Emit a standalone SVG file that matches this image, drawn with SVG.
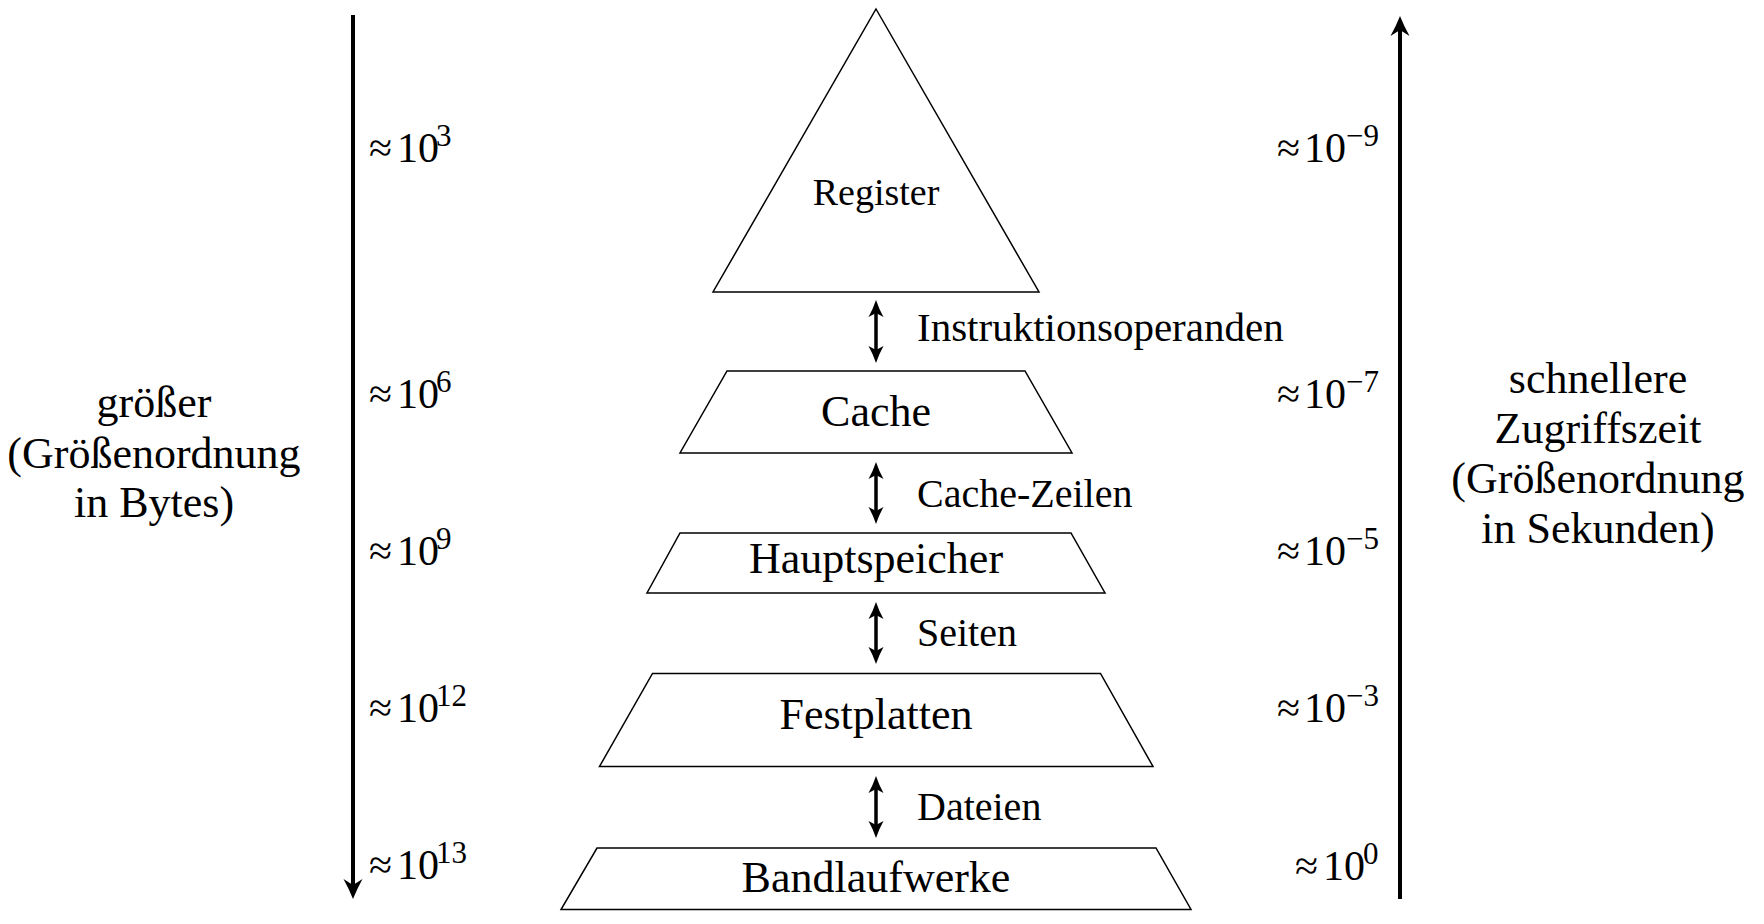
<svg xmlns="http://www.w3.org/2000/svg" width="1764" height="924" viewBox="0 0 1764 924">
<style>
  text { font-family: "Liberation Serif", "Times New Roman", serif; fill: #000; }
  .main { font-size: 44px; text-anchor: middle; }
  .reg { font-size: 38px; text-anchor: middle; }
  .conn { font-size: 40px; }
  .num { font-size: 42px; }
  .sup { font-size: 31px; }
  .axis { font-size: 44px; text-anchor: middle; }
  .shape { fill: #fff; stroke: #000; stroke-width: 1.5; stroke-linejoin: miter; }
  .axisline { stroke: #000; stroke-width: 4; fill: none; }
  .connline { stroke: #000; stroke-width: 3.5; fill: none; }
  .head { fill: #000; stroke: none; }
</style>
<rect width="1764" height="924" fill="#fff"/>

<g id="node-register">
  <polygon class="shape" points="876,9 1039,292 713,292"/>
  <text class="reg" x="876" y="205">Register</text>
</g>
<g id="node-cache">
  <polygon class="shape" points="727,371 1025,371 1072,453 680,453"/>
  <text class="main" x="876" y="426">Cache</text>
</g>
<g id="node-hauptspeicher">
  <polygon class="shape" points="680,533 1071,533 1105,593 647,593"/>
  <text class="main" x="876" y="573">Hauptspeicher</text>
</g>
<g id="node-festplatten">
  <polygon class="shape" points="652.5,673.5 1100.5,673.5 1153,766.5 599.5,766.5"/>
  <text class="main" x="876" y="729">Festplatten</text>
</g>
<g id="node-bandlaufwerke">
  <polygon class="shape" points="597,848 1156,848 1191,909.5 561,909.5"/>
  <text class="main" x="876" y="892">Bandlaufwerke</text>
</g>

<g id="connectors">
  <line class="connline" x1="876" y1="310" x2="876" y2="353"/>
  <path class="head" d="M876,300 Q873,309 868.5,317 L876,313 L883.5,317 Q879,309 876,300 Z"/>
  <path class="head" d="M876,363 Q873,354 868.5,346 L876,350 L883.5,346 Q879,354 876,363 Z"/>

  <line class="connline" x1="876" y1="472" x2="876" y2="514"/>
  <path class="head" d="M876,462 Q873,471 868.5,479 L876,475 L883.5,479 Q879,471 876,462 Z"/>
  <path class="head" d="M876,524 Q873,515 868.5,507 L876,511 L883.5,507 Q879,515 876,524 Z"/>

  <line class="connline" x1="876" y1="612" x2="876" y2="654"/>
  <path class="head" d="M876,602 Q873,611 868.5,619 L876,615 L883.5,619 Q879,611 876,602 Z"/>
  <path class="head" d="M876,664 Q873,655 868.5,647 L876,651 L883.5,647 Q879,655 876,664 Z"/>

  <line class="connline" x1="876" y1="786" x2="876" y2="828"/>
  <path class="head" d="M876,776 Q873,785 868.5,793 L876,789 L883.5,793 Q879,785 876,776 Z"/>
  <path class="head" d="M876,838 Q873,829 868.5,821 L876,825 L883.5,821 Q879,829 876,838 Z"/>
</g>

<g id="connector-labels">
  <text class="conn" x="917" y="341" style="font-size:41px">Instruktionsoperanden</text>
  <text class="conn" x="917" y="507">Cache-Zeilen</text>
  <text class="conn" x="917" y="646">Seiten</text>
  <text class="conn" x="917" y="820">Dateien</text>
</g>

<g id="axis-left">
  <line class="axisline" x1="353" y1="15" x2="353" y2="886"/>
  <path class="head" d="M353,899 Q349,889 343.5,879 L353,885 L362.5,879 Q357,889 353,899 Z"/>
  <text class="axis" x="154" y="417">größer</text>
  <text class="axis" x="154" y="468">(Größenordnung</text>
  <text class="axis" x="154" y="517">in Bytes)</text>
  <text class="num" y="162"><tspan x="369">≈</tspan><tspan x="397">10</tspan><tspan class="sup" x="436" dy="-16">3</tspan></text>
  <text class="num" y="408"><tspan x="369">≈</tspan><tspan x="397">10</tspan><tspan class="sup" x="436" dy="-16">6</tspan></text>
  <text class="num" y="565"><tspan x="369">≈</tspan><tspan x="397">10</tspan><tspan class="sup" x="436" dy="-16">9</tspan></text>
  <text class="num" y="722"><tspan x="369">≈</tspan><tspan x="397">10</tspan><tspan class="sup" x="436" dy="-16">12</tspan></text>
  <text class="num" y="879"><tspan x="369">≈</tspan><tspan x="397">10</tspan><tspan class="sup" x="436" dy="-16">13</tspan></text>
</g>

<g id="axis-right">
  <line class="axisline" x1="1400" y1="29" x2="1400" y2="899"/>
  <path class="head" d="M1400,16 Q1396,26 1390.5,36 L1400,30 L1409.5,36 Q1404,26 1400,16 Z"/>
  <text class="axis" x="1598" y="393">schnellere</text>
  <text class="axis" x="1598" y="443">Zugriffszeit</text>
  <text class="axis" x="1598" y="493">(Größenordnung</text>
  <text class="axis" x="1598" y="543">in Sekunden)</text>
  <text class="num" y="162"><tspan x="1277">≈</tspan><tspan x="1304">10</tspan><tspan class="sup" x="1346" dy="-16">−9</tspan></text>
  <text class="num" y="408"><tspan x="1277">≈</tspan><tspan x="1304">10</tspan><tspan class="sup" x="1346" dy="-16">−7</tspan></text>
  <text class="num" y="565"><tspan x="1277">≈</tspan><tspan x="1304">10</tspan><tspan class="sup" x="1346" dy="-16">−5</tspan></text>
  <text class="num" y="722"><tspan x="1277">≈</tspan><tspan x="1304">10</tspan><tspan class="sup" x="1346" dy="-16">−3</tspan></text>
  <text class="num" y="880"><tspan x="1295">≈</tspan><tspan x="1323">10</tspan><tspan class="sup" x="1363" dy="-16">0</tspan></text>
</g>
</svg>
